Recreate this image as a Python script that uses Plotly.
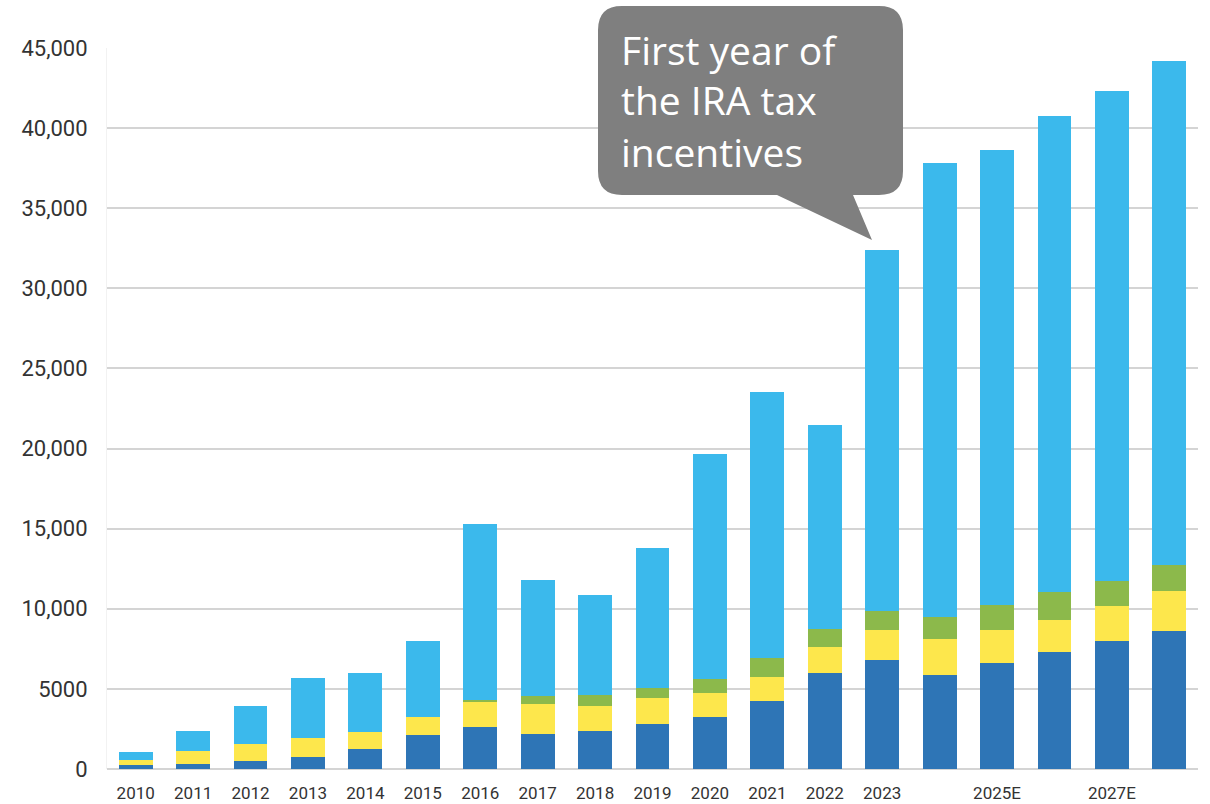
import plotly.graph_objects as go

# Years on the category axis; labels shown under each bar (some left blank)
categories = ["2010", "2011", "2012", "2013", "2014", "2015", "2016", "2017", "2018",
              "2019", "2020", "2021", "2022", "2023", "2024E", "2025E", "2026E",
              "2027E", "2028E"]
tick_labels = ["2010", "2011", "2012", "2013", "2014", "2015", "2016", "2017", "2018",
               "2019", "2020", "2021", "2022", "2023", "", "2025E", "", "2027E", ""]

# Stacked segments, bottom to top
dark_blue = [250, 290, 500, 770, 1250, 2125, 2600, 2210, 2400, 2830, 3250, 4250,
             6020, 6810, 5875, 6645, 7310, 7980, 8625]
yellow = [310, 850, 1060, 1150, 1040, 1105, 1570, 1830, 1560, 1590, 1480, 1500,
          1620, 1880, 2250, 2000, 2000, 2170, 2500]
green = [0, 0, 0, 0, 0, 0, 140, 540, 665, 620, 895, 1170, 1110, 1160, 1335, 1565,
         1730, 1580, 1625]
light_blue = [480, 1235, 2380, 3750, 3710, 4770, 11000, 7230, 6205, 8730, 14065,
              16600, 12750, 22550, 28350, 28415, 29690, 30600, 31420]

y_tick_values = [0, 5000, 10000, 15000, 20000, 25000, 30000, 35000, 40000, 45000]
y_tick_labels = ["0", "5000", "10,000", "15,000", "20,000", "25,000", "30,000",
                 "35,000", "40,000", "45,000"]

callout_lines = ["First year of", "the IRA tax", "incentives"]

W, H = 1210, 804
M_L, M_R, M_T, M_B = 107, 12, 48, 35
PW, PH = W - M_L - M_R, H - M_T - M_B


def px(x):
    return (x - M_L) / PW


def py(y):
    return (H - M_B - y) / PH


fig = go.Figure()
series = [
    (dark_blue, "#2E75B6"),
    (yellow, "#FDE74C"),
    (green, "#8CB94B"),
    (light_blue, "#3BB9EC"),
]
for vals, color in series:
    fig.add_trace(go.Bar(x=categories, y=vals, marker=dict(color=color, line=dict(width=0)),
                         hoverinfo="skip", showlegend=False))

# Speech bubble pointing at the 2023 bar
L, R, T, B, r = 598, 903, 6, 195, 24
pts = [
    ("M", L + r, T), ("L", R - r, T), ("Q", R, T, R, T + r), ("L", R, B - r),
    ("Q", R, B, R - r, B), ("L", 853, B), ("L", 872, 240), ("L", 777, B),
    ("L", L + r, B), ("Q", L, B, L, B - r), ("L", L, T + r), ("Q", L, T, L + r, T),
]
path = ""
for p in pts:
    cmd, coords = p[0], p[1:]
    xy = []
    for i in range(0, len(coords), 2):
        xy.append(f"{px(coords[i]):.5f},{py(coords[i + 1]):.5f}")
    path += cmd + " " + " ".join(xy) + " "
path += "Z"

fig.add_shape(type="path", path=path, xref="paper", yref="paper",
              fillcolor="#7F7F7F", line=dict(width=0), layer="above")

for i, line in enumerate(callout_lines):
    fig.add_annotation(text=line, xref="paper", yref="paper",
                       x=px(619), y=py(49 + 51 * i), xanchor="left", yanchor="middle",
                       showarrow=False, font=dict(family="Open Sans", size=39, color="white"))

fig.update_layout(
    width=W, height=H, autosize=False,
    margin=dict(l=M_L, r=M_R, t=M_T, b=M_B, pad=0),
    paper_bgcolor="white", plot_bgcolor="white",
    barmode="stack", bargap=0.41,
    font=dict(family="Roboto", color="#333333"),
    xaxis=dict(type="category", tickmode="array", tickvals=categories, ticktext=tick_labels,
               tickfont=dict(size=17, color="#333333"), showgrid=False, showline=False,
               ticks="", ticklabelstandoff=12, range=[-0.5, 18.5], fixedrange=True,
               automargin=False),
    yaxis=dict(range=[0, 45000], tickmode="array", tickvals=y_tick_values,
               ticktext=y_tick_labels, tickfont=dict(size=22, color="#333333"),
               showgrid=True, gridcolor="#D4D4D4", gridwidth=1.5,
               zeroline=True, zerolinecolor="#D4D4D4", zerolinewidth=1.5,
               showline=True, linecolor="#F2F2F2", linewidth=1,
               ticks="", ticklabelstandoff=14, fixedrange=True, automargin=False),
)

fig.write_html("out.html")
